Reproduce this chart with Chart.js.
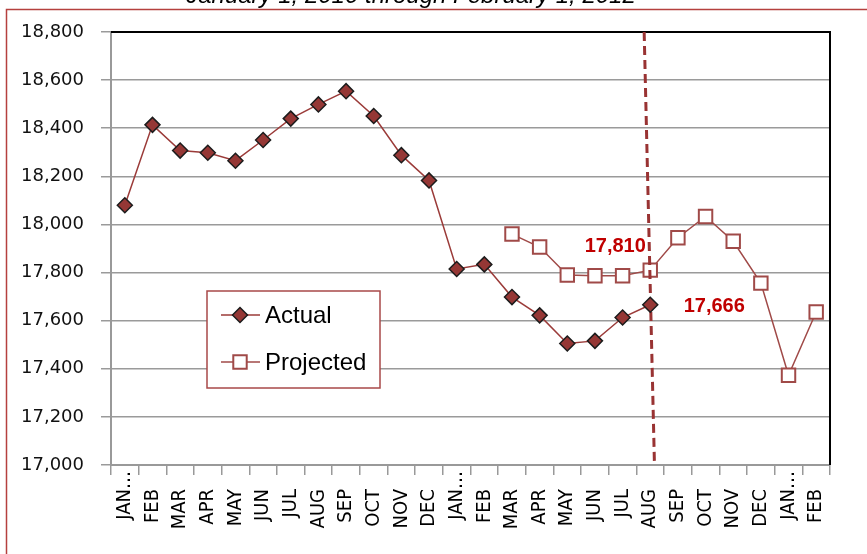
<!DOCTYPE html>
<html>
<head>
<meta charset="utf-8">
<script src="https://cdn.jsdelivr.net/npm/chart.js@4"></script>
<style>
  html, body { margin: 0; padding: 0; background: #fff; }
  canvas { display: block; }
</style>
</head>
<body>
<canvas id="chart" width="867" height="554"></canvas>
<script>
const months = ["JAN…", "FEB", "MAR", "APR", "MAY", "JUN", "JUL", "AUG", "SEP", "OCT", "NOV", "DEC",
    "JAN…", "FEB", "MAR", "APR", "MAY", "JUN", "JUL", "AUG", "SEP", "OCT", "NOV", "DEC",
    "JAN…", "FEB"];

const actual = [18080, 18414, 18307, 18298, 18265, 18351, 18440, 18499, 18554, 18451, 18288, 18183,
    17815, 17834, 17698, 17622, 17505, 17516, 17613, 17666,
    null, null, null, null, null, null];

const projected = [null, null, null, null, null, null, null, null, null, null, null, null, null, null,
    17960, 17906, 17790, 17787, 17787, 17810, 17945, 18033, 17930, 17756, 17373, 17636];

const yTicks = [17000, 17200, 17400, 17600, 17800, 18000, 18200, 18400, 18600, 18800];

const title = "January 1, 2010 through February 1, 2012";

const darkRed = "#9b3b39";
const fmt = v => v.toLocaleString("en-US");

// frame, title, divider, value labels, legend and x labels
const extras = {
    id: "extras",
    beforeDatasetsDraw(chart) {
        const { ctx, chartArea: a } = chart;
        ctx.save();
        ctx.strokeStyle = "#000";
        ctx.lineWidth = 2;
        ctx.beginPath();
        ctx.moveTo(a.left, a.top);
        ctx.lineTo(a.right, a.top);
        ctx.lineTo(a.right, a.bottom);
        ctx.stroke();
        ctx.restore();
    },
    afterDatasetDraw(chart, args) {
        // dashed divider goes over the projected squares, under the actual diamonds
        if (args.index !== 1) return;
        const { ctx, chartArea: a, scales } = chart;
        const x = scales.x;
        ctx.save();
        ctx.strokeStyle = "#993333";
        ctx.lineWidth = 3;
        ctx.setLineDash([9, 5]);
        ctx.beginPath();
        ctx.moveTo(x.getPixelForValue(18.78), a.top);
        ctx.lineTo(x.getPixelForValue(19.15), a.bottom - 3);
        ctx.stroke();
        ctx.restore();
    },
    afterDraw(chart) {
        const { ctx, chartArea: a, scales } = chart;
        const x = scales.x, y = scales.y;
        ctx.save();

        // outer border
        ctx.strokeStyle = "#b5403e";
        ctx.lineWidth = 1.5;
        ctx.strokeRect(6.5, 9.5, 900, 600);

        // title, cut off at the top
        ctx.fillStyle = "#000";
        ctx.font = "italic 24px 'Liberation Sans'";
        ctx.textAlign = "center";
        ctx.textBaseline = "alphabetic";
        ctx.fillText(title, 411, 3);

        // x labels, rotated; the text ends near the axis, an ellipsis spills past it
        ctx.font = "20px 'Liberation Sans Narrow', 'DejaVu Sans Condensed', sans-serif";
        ctx.fillStyle = "#000";
        const top = a.bottom + 24;
        months.forEach((m, i) => {
            const core = m.replace("…", "");
            const w = ctx.measureText(core).width;
            ctx.save();
            ctx.translate(x.getPixelForTick(i), top + w);
            ctx.rotate(-Math.PI / 2);
            ctx.textAlign = "left";
            ctx.textBaseline = "middle";
            ctx.fillText(m, 0, 0);
            ctx.restore();
        });

        // value labels at the divide
        const last = 19;
        ctx.font = "bold 20px 'Liberation Sans'";
        ctx.fillStyle = "#c00000";
        ctx.textAlign = "center";
        ctx.textBaseline = "middle";
        ctx.fillText(fmt(projected[last]), x.getPixelForValue(last) - 35, y.getPixelForValue(projected[last]) - 24);
        ctx.fillText(fmt(actual[last]), x.getPixelForValue(last) + 64, y.getPixelForValue(actual[last]) + 2);

        // legend box
        const lx = a.left + 96, ly = a.top + 259;
        ctx.fillStyle = "#fff";
        ctx.fillRect(lx, ly, 173, 97);
        ctx.strokeStyle = "#a84848";
        ctx.lineWidth = 1.5;
        ctx.strokeRect(lx, ly, 173, 97);

        const rows = [
            { label: "Actual", ds: chart.data.datasets[0], cy: ly + 24 },
            { label: "Projected", ds: chart.data.datasets[1], cy: ly + 71 },
        ];
        rows.forEach(r => {
            ctx.strokeStyle = r.ds.borderColor;
            ctx.lineWidth = 1.5;
            ctx.beginPath();
            ctx.moveTo(lx + 14, r.cy);
            ctx.lineTo(lx + 53, r.cy);
            ctx.stroke();
            ctx.fillStyle = r.ds.pointBackgroundColor;
            ctx.strokeStyle = r.ds.pointBorderColor;
            ctx.lineWidth = r.ds.pointBorderWidth;
            Chart.helpers.drawPoint(ctx, {
                pointStyle: r.ds.pointStyle,
                radius: r.ds.pointRadius,
                borderWidth: r.ds.pointBorderWidth,
                rotation: 0
            }, lx + 33, r.cy);
            ctx.fillStyle = "#000";
            ctx.font = "24px 'Liberation Sans'";
            ctx.textAlign = "left";
            ctx.textBaseline = "middle";
            ctx.fillText(r.label, lx + 58, r.cy + 1);
        });

        ctx.restore();
    }
};

new Chart(document.getElementById("chart"), {
    type: "line",
    data: {
        labels: months,
        datasets: [
            {
                label: "Actual",
                data: actual,
                borderColor: darkRed,
                borderWidth: 1.5,
                pointStyle: "rectRot",
                pointRadius: 7.5,
                pointBackgroundColor: "#953735",
                pointBorderColor: "#1c1c1c",
                pointBorderWidth: 1.5,
                tension: 0,
            },
            {
                label: "Projected",
                data: projected,
                borderColor: "#a04a48",
                borderWidth: 1.5,
                pointStyle: "rect",
                pointRadius: 9.5,
                pointBackgroundColor: "#fff",
                pointBorderColor: "#a04a48",
                pointBorderWidth: 2,
                tension: 0,
            },
        ],
    },
    options: {
        responsive: false,
        animation: false,
        layout: { padding: { top: 32, right: 37, left: 0, bottom: 0 } },
        plugins: {
            legend: { display: false },
            tooltip: { enabled: false },
        },
        scales: {
            x: {
                offset: true,
                ticks: { display: false },
                grid: { offset: true, drawOnChartArea: false, tickLength: 10, color: "#999", lineWidth: 1.5 },
                border: { color: "#999", width: 2 },
                afterFit: s => { s.height = 89; },
            },
            y: {
                min: 17000,
                max: 18800,
                afterBuildTicks: s => { s.ticks = yTicks.map(v => ({ value: v })); },
                ticks: {
                    padding: 17,
                    color: "#111",
                    font: { family: "'DejaVu Sans'", size: 18 },
                    callback: v => fmt(v),
                },
                grid: { color: "#9a9a9a", lineWidth: 1.5, tickLength: 10 },
                border: { color: "#999", width: 2 },
                afterFit: s => { s.width = 111; },
            },
        },
    },
    plugins: [extras],
});
</script>
</body>
</html>
